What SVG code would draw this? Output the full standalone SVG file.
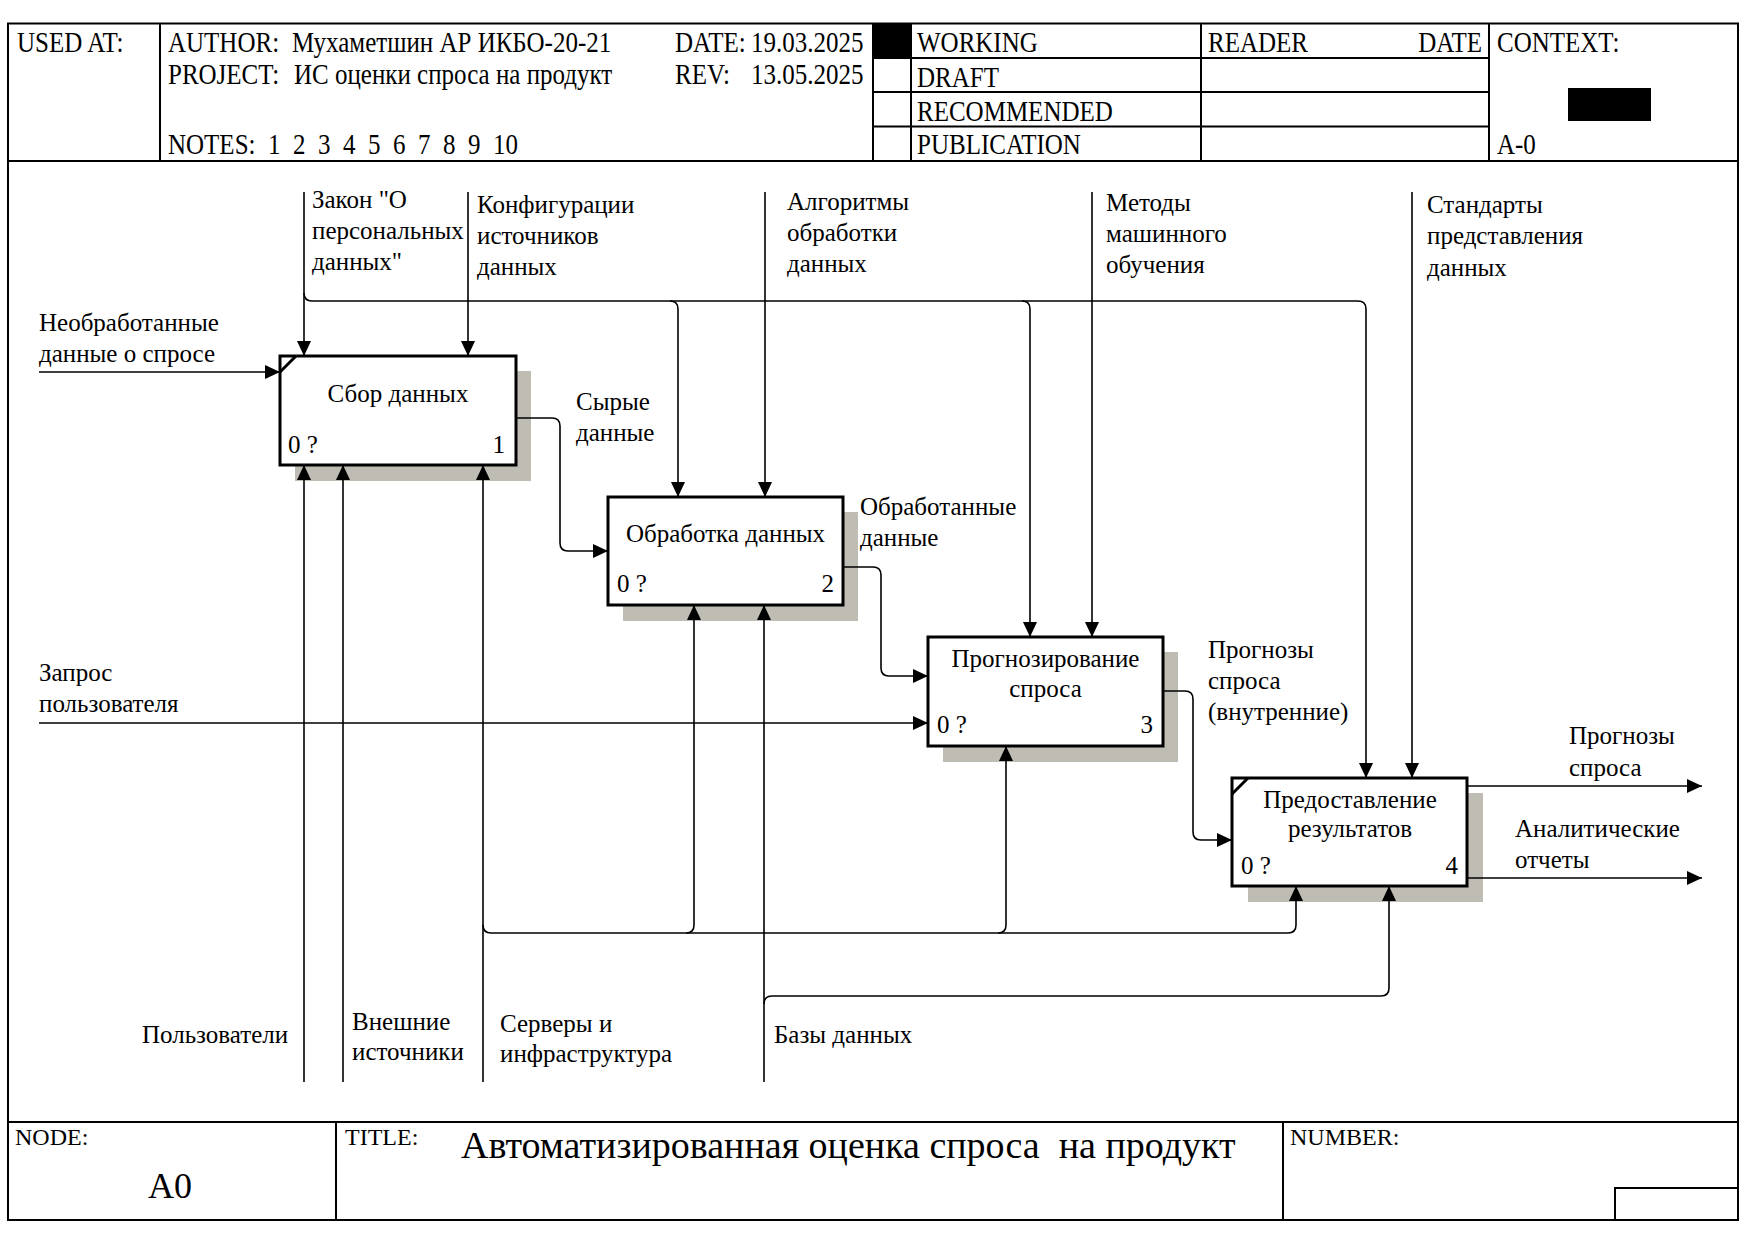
<svg xmlns="http://www.w3.org/2000/svg" width="1755" height="1241" viewBox="0 0 1755 1241">
<style>
text{font-family:"Liberation Serif","Times New Roman",serif;fill:#000}
.h{font-size:25px}
.b{font-size:25px}
.f{font-size:24px}
.m{text-anchor:middle}
.e{text-anchor:end}
.fr{fill:none;stroke:#000;stroke-width:2}
.box{fill:#fff;stroke:#000;stroke-width:3}
.sh{fill:#bfbcb4}
.ca{fill:none;stroke:#000;stroke-width:1.6;marker-end:url(#ah)}
</style>
<defs>
<marker id="ah" markerUnits="userSpaceOnUse" markerWidth="16" markerHeight="14" refX="15" refY="7" orient="auto">
<path d="M0,0 L15,7 L0,14 z" fill="#000"/>
</marker>
</defs>
<rect width="1755" height="1241" fill="#fff"/>
<g id="frame">
<rect class="fr" x="8" y="23.5" width="1730" height="1196.5"/>
<line class="fr" x1="8" y1="161" x2="1738" y2="161"/>
<line class="fr" x1="160" y1="23.5" x2="160" y2="161"/>
<line class="fr" x1="873" y1="23.5" x2="873" y2="161"/>
<line class="fr" x1="911" y1="23.5" x2="911" y2="161"/>
<line class="fr" x1="1201" y1="23.5" x2="1201" y2="161"/>
<line class="fr" x1="1489" y1="23.5" x2="1489" y2="161"/>
<line class="fr" x1="873" y1="58" x2="1489" y2="58"/>
<line class="fr" x1="873" y1="92" x2="1489" y2="92"/>
<line class="fr" x1="873" y1="126.5" x2="1489" y2="126.5"/>
<rect x="873" y="23.5" width="38" height="34.5" fill="#000"/>
<rect x="1568" y="88" width="83" height="33" fill="#000"/>
<line class="fr" x1="8" y1="1122" x2="1738" y2="1122"/>
<line class="fr" x1="336" y1="1122" x2="336" y2="1220"/>
<line class="fr" x1="1283" y1="1122" x2="1283" y2="1220"/>
<polyline class="fr" points="1615,1220 1615,1188 1738,1188"/>
</g>
<g id="header-text" class="h">
<g transform="matrix(1 0 0 1.2 0 -10.5)">
<text x="17" y="52.5">USED AT:</text>
<text x="168" y="52.5">AUTHOR:</text>
<text x="292" y="52.5">Мухаметшин АР ИКБО-20-21</text>
<text x="675" y="52.5">DATE:</text>
<text x="751" y="52.5">19.03.2025</text>
<text x="917" y="52.5">WORKING</text>
<text x="1208" y="52.5">READER</text>
<text x="1482" y="52.5" class="e">DATE</text>
<text x="1497" y="52.5">CONTEXT:</text>
</g>
<g transform="matrix(1 0 0 1.2 0 -16.8)">
<text x="168" y="84">PROJECT:</text>
<text x="294" y="84">ИС оценки спроса на продукт</text>
<text x="675" y="84">REV:</text>
<text x="751" y="84">13.05.2025</text>
</g>
<g transform="matrix(1 0 0 1.2 0 -17.4)">
<text x="917" y="87">DRAFT</text>
</g>
<g transform="matrix(1 0 0 1.2 0 -24.2)">
<text x="917" y="121">RECOMMENDED</text>
</g>
<g transform="matrix(1 0 0 1.2 0 -30.8)">
<text x="917" y="154">PUBLICATION</text>
<text x="1497" y="154">A-0</text>
<text x="168" y="154">NOTES:</text>
<text y="154"><tspan x="268">1</tspan><tspan x="293">2</tspan><tspan x="318">3</tspan><tspan x="343">4</tspan><tspan x="368">5</tspan><tspan x="393">6</tspan><tspan x="418">7</tspan><tspan x="443">8</tspan><tspan x="468">9</tspan><tspan x="493">10</tspan></text>
</g>
</g>
<g id="footer-text">
<text class="f" x="15" y="1145">NODE:</text>
<text class="f" x="345" y="1145">TITLE:</text>
<text class="f" x="1290" y="1145">NUMBER:</text>
<text x="148" y="1198" style="font-size:36px">A0</text>
<text x="461" y="1158" style="font-size:38px">Автоматизированная оценка спроса&#160; на продукт</text>
</g>
<g id="labels" class="b">
<text x="39" y="331">Необработанные</text>
<text x="39" y="362">данные о спросе</text>
<text x="39" y="681">Запрос</text>
<text x="39" y="712">пользователя</text>
<text x="312" y="208">Закон "О</text>
<text x="312" y="239">персональных</text>
<text x="312" y="270">данных"</text>
<text x="477" y="213">Конфигурации</text>
<text x="477" y="244">источников</text>
<text x="477" y="275">данных</text>
<text x="787" y="210">Алгоритмы</text>
<text x="787" y="241">обработки</text>
<text x="787" y="272">данных</text>
<text x="1106" y="211">Методы</text>
<text x="1106" y="242">машинного</text>
<text x="1106" y="273">обучения</text>
<text x="1427" y="213">Стандарты</text>
<text x="1427" y="244">представления</text>
<text x="1427" y="276">данных</text>
<text x="576" y="410">Сырые</text>
<text x="576" y="441">данные</text>
<text x="860" y="515">Обработанные</text>
<text x="860" y="546">данные</text>
<text x="1208" y="658">Прогнозы</text>
<text x="1208" y="689">спроса</text>
<text x="1208" y="720">(внутренние)</text>
<text x="1569" y="744">Прогнозы</text>
<text x="1569" y="776">спроса</text>
<text x="1515" y="837">Аналитические</text>
<text x="1515" y="868">отчеты</text>
<text x="142" y="1043">Пользователи</text>
<text x="352" y="1030">Внешние</text>
<text x="352" y="1060">источники</text>
<text x="500" y="1032">Серверы и</text>
<text x="500" y="1062">инфраструктура</text>
<text x="774" y="1043">Базы данных</text>
</g>
<g id="node-A1">
<rect class="sh" x="295" y="371" width="236" height="110"/>
<rect class="box" x="280" y="356" width="236" height="109"/>
<line x1="280" y1="372" x2="296" y2="356" stroke="#000" stroke-width="3"/>
<text class="b m" x="398" y="402">Сбор данных</text>
<text class="b" x="288" y="453">0 ?</text>
<text class="b e" x="505" y="453">1</text>
</g>
<g id="node-A2">
<rect class="sh" x="623" y="512" width="235" height="109"/>
<rect class="box" x="608" y="497" width="235" height="108"/>
<text class="b m" x="725.5" y="542">Обработка данных</text>
<text class="b" x="617" y="592">0 ?</text>
<text class="b e" x="834" y="592">2</text>
</g>
<g id="node-A3">
<rect class="sh" x="943" y="652" width="235" height="110"/>
<rect class="box" x="928" y="637" width="235" height="109"/>
<text class="b m" x="1045.5" y="667">Прогнозирование</text>
<text class="b m" x="1045.5" y="697">спроса</text>
<text class="b" x="937" y="733">0 ?</text>
<text class="b e" x="1153" y="733">3</text>
</g>
<g id="node-A4">
<rect class="sh" x="1248" y="793" width="235" height="109"/>
<rect class="box" x="1232" y="778" width="235" height="108"/>
<line x1="1232" y1="794" x2="1248" y2="778" stroke="#000" stroke-width="3"/>
<text class="b m" x="1350" y="808">Предоставление</text>
<text class="b m" x="1350" y="837">результатов</text>
<text class="b" x="1241" y="874">0 ?</text>
<text class="b e" x="1458" y="874">4</text>
</g>
<g id="connectors">
<path class="ca" d="M39,372 H280"/>
<path class="ca" d="M39,723 H928"/>
<path class="ca" d="M516,418 H552 Q560,418 560,426 V543 Q560,551 568,551 H608"/>
<path class="ca" d="M843,567 H873 Q881,567 881,575 V668 Q881,676 889,676 H928"/>
<path class="ca" d="M1163,691 H1185 Q1193,691 1193,699 V832 Q1193,840 1201,840 H1232"/>
<path class="ca" d="M1467,786 H1702"/>
<path class="ca" d="M1467,878 H1702"/>
<path class="ca" d="M304,192 V356"/>
<path class="ca" d="M468,192 V356"/>
<path class="ca" d="M765,192 V497"/>
<path class="ca" d="M1092,192 V637"/>
<path class="ca" d="M1412,192 V778"/>
<path class="ca" d="M304,293 Q304,301 312,301 H670 Q678,301 678,309 V497"/>
<path class="ca" d="M670,301 H1022 Q1030,301 1030,309 V637"/>
<path class="ca" d="M1022,301 H1358 Q1366,301 1366,309 V778"/>
<path class="ca" d="M304,1082 V465"/>
<path class="ca" d="M343,1082 V465"/>
<path class="ca" d="M483,1082 V465"/>
<path class="ca" d="M764,1082 V605"/>
<path class="ca" d="M483,925 Q483,933 491,933 H686 Q694,933 694,925 V605"/>
<path class="ca" d="M686,933 H998 Q1006,933 1006,925 V746"/>
<path class="ca" d="M998,933 H1288 Q1296,933 1296,925 V886"/>
<path class="ca" d="M764,1004 Q764,996 772,996 H1381 Q1389,996 1389,988 V886"/>
</g>
</svg>
